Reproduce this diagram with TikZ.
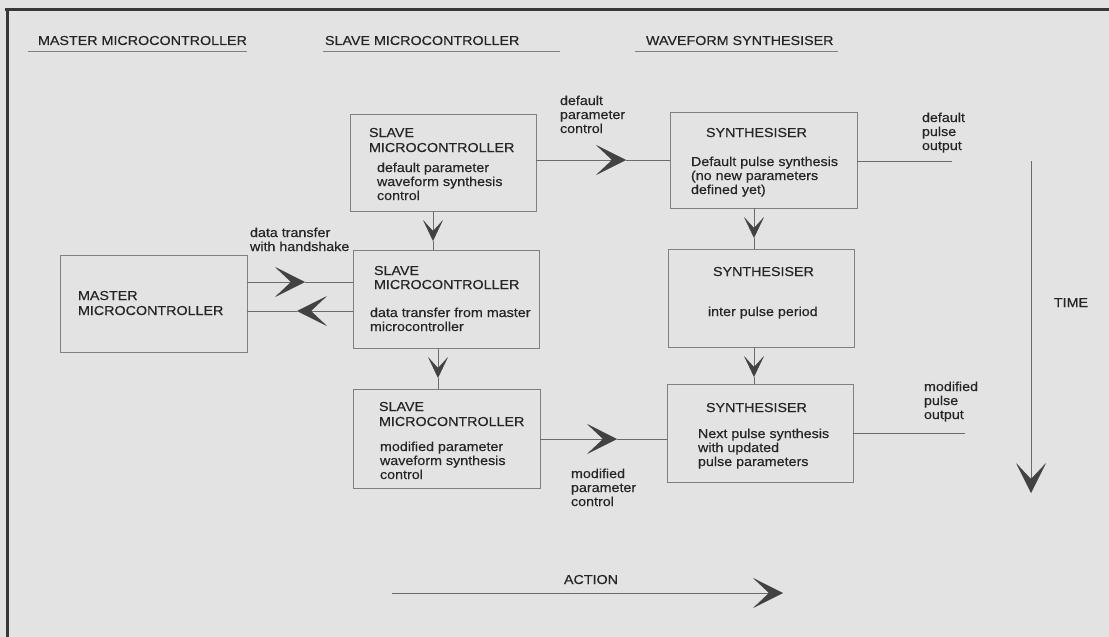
\documentclass[tikz,border=0pt]{standalone}
\usepackage{fontspec}
\setmainfont{Liberation Sans}[FakeStretch=1.1, FakeBold=0.4]
\usetikzlibrary{arrows.meta}
\definecolor{paper}{gray}{0.89}
\definecolor{frame}{gray}{0.22}
\definecolor{boxline}{gray}{0.5}
\definecolor{wire}{gray}{0.42}
\definecolor{ink}{gray}{0.15}
\definecolor{headc}{gray}{0.26}
\begin{document}
\begin{tikzpicture}[x=1pt,y=-1pt,
  box/.style={draw=boxline, line width=0.8pt, rectangle, inner sep=0pt, outer sep=0pt, anchor=north west},
  txt/.style={anchor=base west, inner sep=0pt, outer sep=0pt, text=ink, font=\fontsize{13}{14}\selectfont},
  ctxt/.style={txt, anchor=base},
  wireline/.style={draw=wire, line width=0.8pt},
  bighead/.style={wireline, -{Stealth[length=30pt, width=30pt, inset=16pt, color=headc, fill=headc, line width=0.4pt]}},
  smallhead/.style={wireline, -{Stealth[length=21pt, width=20pt, inset=11pt, color=headc, fill=headc, line width=0.4pt]}},
  hrule/.style={draw=boxline, line width=0.9pt}
]
% page and frame
\fill[paper] (0,0) rectangle (1109,637);
\useasboundingbox (0,0) rectangle (1109,637);
\draw[frame, line width=3pt] (5,9) -- (1109,9);
\draw[frame, line width=3pt] (7,8) -- (7,637);

% column headings
\node[txt] (hM) at (38,45) {MASTER MICROCONTROLLER};
\node[txt] (hS) at (325,45) {SLAVE MICROCONTROLLER};
\node[txt] (hW) at (646,45) {WAVEFORM SYNTHESISER};
\draw[hrule] (28,51) -- (247,51);
\draw[hrule] (323,51) -- (560,51);
\draw[hrule] (635,51) -- (838,51);

% boxes
\node[box, minimum width=187pt, minimum height=97pt] (M)  at (60,255)  {};
\node[box, minimum width=186pt, minimum height=97pt] (S1) at (350,114) {};
\node[box, minimum width=186pt, minimum height=98pt] (S2) at (353,250) {};
\node[box, minimum width=187pt, minimum height=99pt] (S3) at (353,389) {};
\node[box, minimum width=187pt, minimum height=96pt] (Y1) at (670,112) {};
\node[box, minimum width=186pt, minimum height=98pt] (Y2) at (668,249) {};
\node[box, minimum width=186pt, minimum height=98pt] (Y3) at (667,384) {};

% box texts
\node[txt] (tM1) at (78,300) {MASTER};
\node[txt] (tM2) at (78,315) {MICROCONTROLLER};

\node[txt] (tS1a) at (369,137) {SLAVE};
\node[txt] (tS1b) at (369,152) {MICROCONTROLLER};
\node[txt] (tS1c) at (377,172) {default parameter};
\node[txt] (tS1d) at (377,186) {waveform synthesis};
\node[txt] (tS1e) at (377,200) {control};

\node[txt] (tS2a) at (374,275) {SLAVE};
\node[txt] (tS2b) at (374,289) {MICROCONTROLLER};
\node[txt] (tS2c) at (370,317) {data transfer from master};
\node[txt] (tS2d) at (370,331) {microcontroller};

\node[txt] (tS3a) at (379,411) {SLAVE};
\node[txt] (tS3b) at (379,426) {MICROCONTROLLER};
\node[txt] (tS3c) at (380,451) {modified parameter};
\node[txt] (tS3d) at (380,465) {waveform synthesis};
\node[txt] (tS3e) at (380,479) {control};

\node[txt] (tY1a) at (706,137) {SYNTHESISER};
\node[txt] (tY1b) at (691,166) {Default pulse synthesis};
\node[txt] (tY1c) at (691,180) {(no new parameters};
\node[txt] (tY1d) at (691,194) {defined yet)};

\node[txt] (tY2a) at (713,276) {SYNTHESISER};
\node[txt] (tY2b) at (708,316) {inter pulse period};

\node[txt] (tY3a) at (706,412) {SYNTHESISER};
\node[txt] (tY3b) at (698,438) {Next pulse synthesis};
\node[txt] (tY3c) at (698,452) {with updated};
\node[txt] (tY3d) at (698,466) {pulse parameters};

% connector labels
\node[txt] (lA1) at (560,105) {default};
\node[txt] (lA2) at (560,119) {parameter};
\node[txt] (lA3) at (560,133) {control};

\node[txt] (lB1) at (922,122) {default};
\node[txt] (lB2) at (922,136) {pulse};
\node[txt] (lB3) at (922,150) {output};

\node[txt] (lC1) at (924,391) {modified};
\node[txt] (lC2) at (924,405) {pulse};
\node[txt] (lC3) at (924,419) {output};

\node[txt] (lD1) at (571,478) {modified};
\node[txt] (lD2) at (571,492) {parameter};
\node[txt] (lD3) at (571,506) {control};

\node[txt] (lE1) at (250,237) {data transfer};
\node[txt] (lE2) at (250,251) {with handshake};

\node[ctxt] (lT) at (1071,307) {TIME};
\node[ctxt] (lX) at (591,584) {ACTION};

% arrow tip positions and free ends
\coordinate (pA) at (626,160);
\coordinate (pD) at (617,439);
\coordinate (pHu) at (305,282);
\coordinate (pHl) at (297,311);
\coordinate (pV1) at (433,241);
\coordinate (pV2) at (438,378);
\coordinate (pV3) at (754,238);
\coordinate (pV4) at (754,377);
\coordinate (oB) at (952,161);
\coordinate (oC) at (965,433);
\coordinate (t0) at (1031,161);
\coordinate (t1) at (1031,493);
\coordinate (a0) at (392,593);
\coordinate (a1) at (783,593);

% slave -> synthesiser control
\draw[bighead] (S1.east |- pA) -- (pA);
\draw[wireline] (pA) -- (Y1.west |- pA);
\draw[bighead] (S3.east |- pD) -- (pD);
\draw[wireline] (pD) -- (Y3.west |- pD);

% handshake between master and slave
\draw[bighead] (M.east |- pHu) -- (pHu);
\draw[wireline] (pHu) -- (S2.west |- pHu);
\draw[bighead] (S2.west |- pHl) -- (pHl);
\draw[wireline] (pHl) -- (M.east |- pHl);

% sequence within each column
\draw[smallhead] (S1.south -| pV1) -- (pV1);
\draw[wireline] (pV1) -- (S2.north -| pV1);
\draw[smallhead] (S2.south -| pV2) -- (pV2);
\draw[wireline] (pV2) -- (S3.north -| pV2);
\draw[smallhead] (Y1.south -| pV3) -- (pV3);
\draw[wireline] (pV3) -- (Y2.north -| pV3);
\draw[smallhead] (Y2.south -| pV4) -- (pV4);
\draw[wireline] (pV4) -- (Y3.north -| pV4);

% pulse outputs
\draw[wireline] (Y1.east |- oB) -- (oB);
\draw[wireline] (Y3.east |- oC) -- (oC);

% time and action axes
\draw[bighead] (t0) -- (t1);
\draw[bighead] (a0) -- (a1);
\end{tikzpicture}
\end{document}
